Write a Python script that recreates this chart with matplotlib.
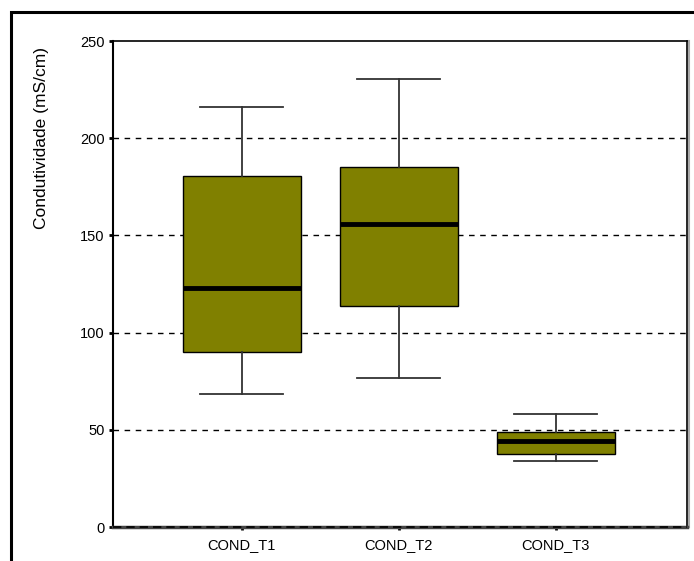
import matplotlib
matplotlib.use("Agg")
import matplotlib.pyplot as plt
from matplotlib.patches import Rectangle

plt.rcParams['font.family'] = ['Liberation Sans', 'DejaVu Sans']

# five-number summaries for each conductivity series
labels = ['COND_T1', 'COND_T2', 'COND_T3']
whisker_low = [68.6, 76.6, 33.8]
q1 = [90.2, 113.5, 37.5]
medians = [123.0, 156.0, 44.1]
q3 = [180.5, 185.0, 48.7]
whisker_high = [216.2, 230.5, 58.3]

olive = '#808000'

fig = plt.figure(figsize=(6.94, 5.61), dpi=100)
ax = fig.add_axes([0.1628, 0.0606, 0.8272, 0.8663])

stats = []
for i in range(len(labels)):
    stats.append({'label': labels[i], 'whislo': whisker_low[i], 'q1': q1[i],
                  'med': medians[i], 'q3': q3[i], 'whishi': whisker_high[i]})

ax.bxp(stats, positions=[1, 2, 3], widths=0.75, patch_artist=True,
       showfliers=False,
       boxprops=dict(facecolor=olive, edgecolor='black', linewidth=1.0),
       medianprops=dict(color='black', linewidth=3.5, solid_capstyle='butt'),
       whiskerprops=dict(color='#333333', linewidth=1.3),
       capprops=dict(color='#333333', linewidth=1.3),
       capwidths=0.53)

# dashed horizontal reference lines
for y in [50, 100, 150, 200]:
    ax.axhline(y, color='black', linewidth=1.0, linestyle=(0, (4, 4)), zorder=0)

ax.set_xlim(0.18, 3.836)
ax.set_ylim(0, 250)
ax.set_yticks([0, 50, 100, 150, 200, 250])
ax.set_ylabel('Condutividade (mS/cm)', fontsize=12.5)
ax.yaxis.set_label_coords(-0.112, 0.80)
ax.tick_params(axis='y', length=3, width=2, direction='out', labelsize=10.5, pad=3)
ax.tick_params(axis='x', length=2, width=2, direction='out', labelsize=10.5, pad=6)

ax.spines['left'].set_linewidth(1.5)
ax.spines['top'].set_linewidth(1.2)
ax.spines['right'].set_linewidth(1.2)
ax.spines['bottom'].set_linewidth(2.5)
ax.spines['bottom'].set_color('#444444')
ax.axhline(0, color='black', linewidth=1.2, linestyle=(0, (5, 3)), clip_on=False, zorder=5)
# soft shadow on the right edge
ax.plot([1.004, 1.004], [0, 1], transform=ax.transAxes, color='#aaaaaa',
        linewidth=1.5, clip_on=False)

# outer frame around the chart
fig.patches.append(Rectangle((11 / 694, -0.2), 1.2, 1.2 - 12 / 561,
                             transform=fig.transFigure, fill=False,
                             edgecolor='black', linewidth=2.2))

fig.savefig('out.png', dpi=100)
